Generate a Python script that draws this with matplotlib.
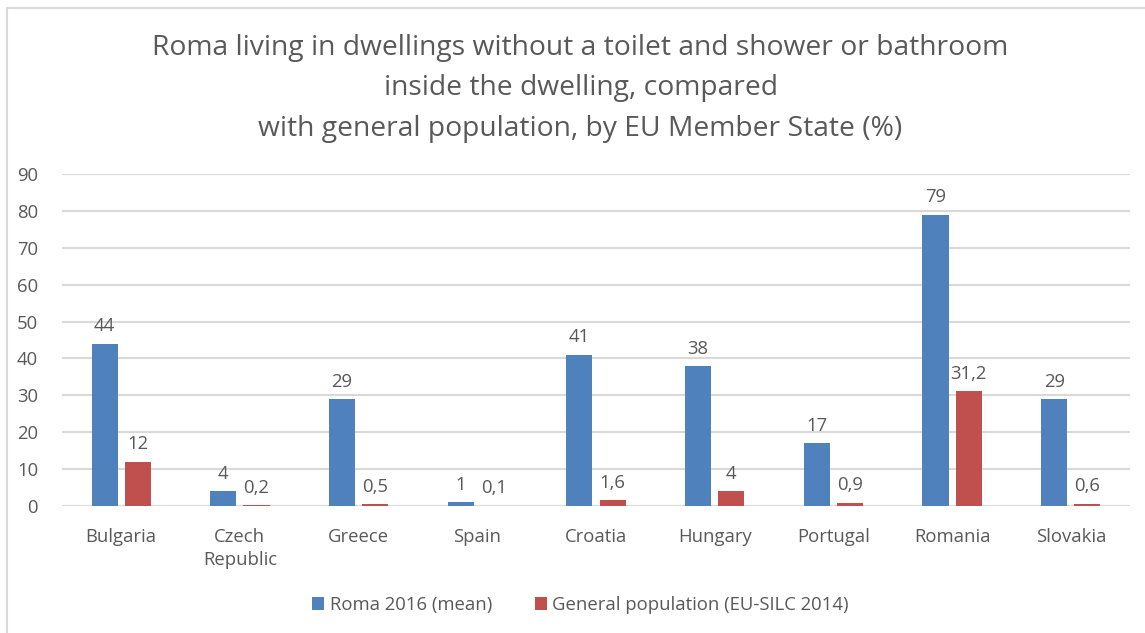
import numpy as np
import matplotlib.pyplot as plt
from matplotlib.patches import Rectangle

plt.rcParams['font.family'] = ['Open Sans', 'DejaVu Sans']

countries = ['Bulgaria', 'Czech\nRepublic', 'Greece', 'Spain', 'Croatia',
             'Hungary', 'Portugal', 'Romania', 'Slovakia']
roma_2016 = [44, 4, 29, 1, 41, 38, 17, 79, 29]
general_pop = [12, 0.2, 0.5, 0.1, 1.6, 4, 0.9, 31.2, 0.6]
roma_labels = ['44', '4', '29', '1', '41', '38', '17', '79', '29']
general_labels = ['12', '0,2', '0,5', '0,1', '1,6', '4', '0,9', '31,2', '0,6']

blue = '#4F81BD'
red = '#C0504D'
grey_text = '#595959'

fig = plt.figure(figsize=(11.45, 6.33), dpi=100)
ax = fig.add_axes([0.054, 0.2006, 0.933, 0.5245])

# outer chart border (right and bottom edges run off the canvas)
fig.patches.append(Rectangle((0.006, -0.05), 1.05, 1.037, transform=fig.transFigure,
                             fill=False, edgecolor='#D9D9D9', linewidth=1.5))

x = np.arange(len(countries))
w = 0.22
gap = 0.03
b1 = ax.bar(x - w / 2 - gap, roma_2016, w, color=blue, label='Roma 2016 (mean)', zorder=3)
b2 = ax.bar(x + w / 2 + gap, general_pop, w, color=red,
            label='General population (EU-SILC 2014)', zorder=3)

ax.bar_label(b1, labels=roma_labels, padding=6, fontsize=13.3, color=grey_text)
ax.bar_label(b2, labels=general_labels, padding=6, fontsize=13.3, color=grey_text)

ax.set_xlim(-0.5, len(countries) - 0.5)
ax.set_ylim(0, 90)
ax.set_yticks(range(0, 91, 10))
ax.set_xticks(x)
ax.set_xticklabels(countries, fontsize=13.3, color=grey_text, linespacing=1.35)
ax.tick_params(axis='y', labelsize=13.3, labelcolor=grey_text, length=0, pad=17)
ax.tick_params(axis='x', length=0, pad=16)
ax.grid(axis='y', color='#D9D9D9', linewidth=1.5, zorder=0)
for s in ax.spines.values():
    s.set_visible(False)

title_lines = ['Roma living in dwellings without a toilet and shower or bathroom',
               'inside the dwelling, compared',
               'with general population, by EU Member State (%)']
for i, line in enumerate(title_lines):
    fig.text(0.507, 1 - (48 + 40.5 * i) / 633, line, ha='center', va='center',
             fontsize=20.3, color=grey_text)

fig.legend(loc='center', bbox_to_anchor=(0.507, 1 - 605 / 633), ncol=2, frameon=False,
           fontsize=13.3, labelcolor=grey_text, handlelength=0.65, handleheight=0.65,
           handletextpad=0.3, columnspacing=2.3)

fig.savefig('out.png', dpi=100)
